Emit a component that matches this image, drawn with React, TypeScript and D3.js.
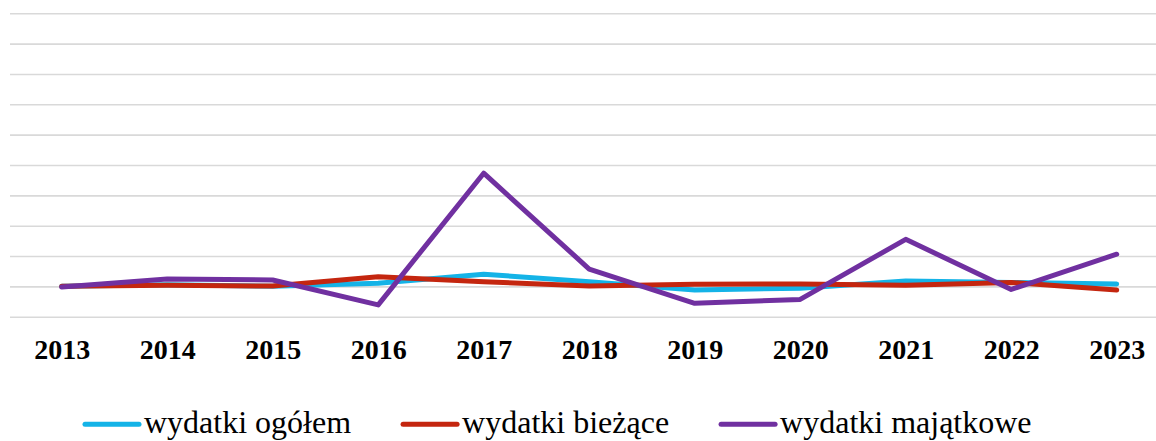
import { useEffect, useRef } from "react";
import * as d3 from "d3";

const WIDTH = 1156;
const HEIGHT = 441;

const years = ["2013", "2014", "2015", "2016", "2017", "2018", "2019", "2020", "2021", "2022", "2023"];

// values (index, 2013 = 1)
const ogolem = [1.0, 1.05, 1.0, 1.1, 1.4, 1.15, 0.88, 0.94, 1.18, 1.13, 1.08];
const biezace = [1.0, 1.04, 1.01, 1.32, 1.15, 1.01, 1.07, 1.08, 1.04, 1.13, 0.88];
const majatkowe = [0.98, 1.24, 1.21, 0.39, 4.73, 1.57, 0.44, 0.57, 2.55, 0.9, 2.06];

const gridTicks = [0, 1, 2, 3, 4, 5, 6, 7, 8, 9, 10];

const seriesNames = ["wydatki ogółem", "wydatki bieżące", "wydatki majątkowe"];
const seriesColors = ["#14B3E7", "#C4260F", "#7030A0"];

const series = [ogolem, biezace, majatkowe].map((values, i) => ({
    name: seriesNames[i],
    color: seriesColors[i],
    values,
}));

const FONT = "'Liberation Serif', 'Times New Roman', serif";

const LineChart = () => {
    const ref = useRef(null);

    useEffect(() => {
        const svg = d3.select(ref.current);
        svg.selectAll("*").remove();

        const xScale = d3.scalePoint().domain(years).range([61.7, 1116.7]);
        const yScale = d3.scaleLinear().domain([0, 10]).range([316.7, 13.3]);

        // grid
        const yAxis = d3.axisLeft(yScale).tickValues(gridTicks).tickSize(-(WIDTH - 10)).tickFormat(() => "");
        const gy = svg.append("g").attr("transform", "translate(10,0)").call(yAxis);
        gy.select(".domain").remove();
        gy.selectAll(".tick line").attr("stroke", "#D9D9D9").attr("stroke-width", 1.6);

        // x labels
        const xAxis = d3.axisBottom(xScale).tickSize(0).tickPadding(0);
        const gx = svg.append("g").attr("transform", "translate(0,334)").call(xAxis);
        gx.select(".domain").remove();
        gx.selectAll("text")
            .attr("dy", 0)
            .attr("y", 25.3)
            .attr("fill", "#000")
            .style("font-family", FONT)
            .style("font-size", "28px")
            .style("font-weight", "bold");

        const lineBuilder = d3
            .line<number>()
            .x((_, i) => xScale(years[i]) as number)
            .y((d) => yScale(d));

        series.forEach((s) => {
            svg.append("path")
                .attr("d", lineBuilder(s.values))
                .attr("fill", "none")
                .attr("stroke", s.color)
                .attr("stroke-width", 5)
                .attr("stroke-linecap", "round")
                .attr("stroke-linejoin", "round");
        });

        // legend
        const legend = svg.append("g");
        let x = 85;
        series.forEach((s) => {
            legend.append("line")
                .attr("x1", x).attr("x2", x + 54)
                .attr("y1", 424.3).attr("y2", 424.3)
                .attr("stroke", s.color)
                .attr("stroke-width", 5)
                .attr("stroke-linecap", "round");
            const t = legend.append("text")
                .attr("x", x + 59)
                .attr("y", 432.5)
                .attr("fill", "#000")
                .style("font-family", FONT)
                .style("font-size", "32px")
                .text(s.name);
            const w = (t.node() as SVGTextElement).getComputedTextLength();
            x = x + 59 + w + 52;
        });
    }, []);

    return (
        <svg
            ref={ref}
            width={WIDTH}
            height={HEIGHT}
            style={{ position: "absolute", left: 0, top: 0, background: "#fff" }}
        />
    );
};

export default function App() {
    return <LineChart />;
}
